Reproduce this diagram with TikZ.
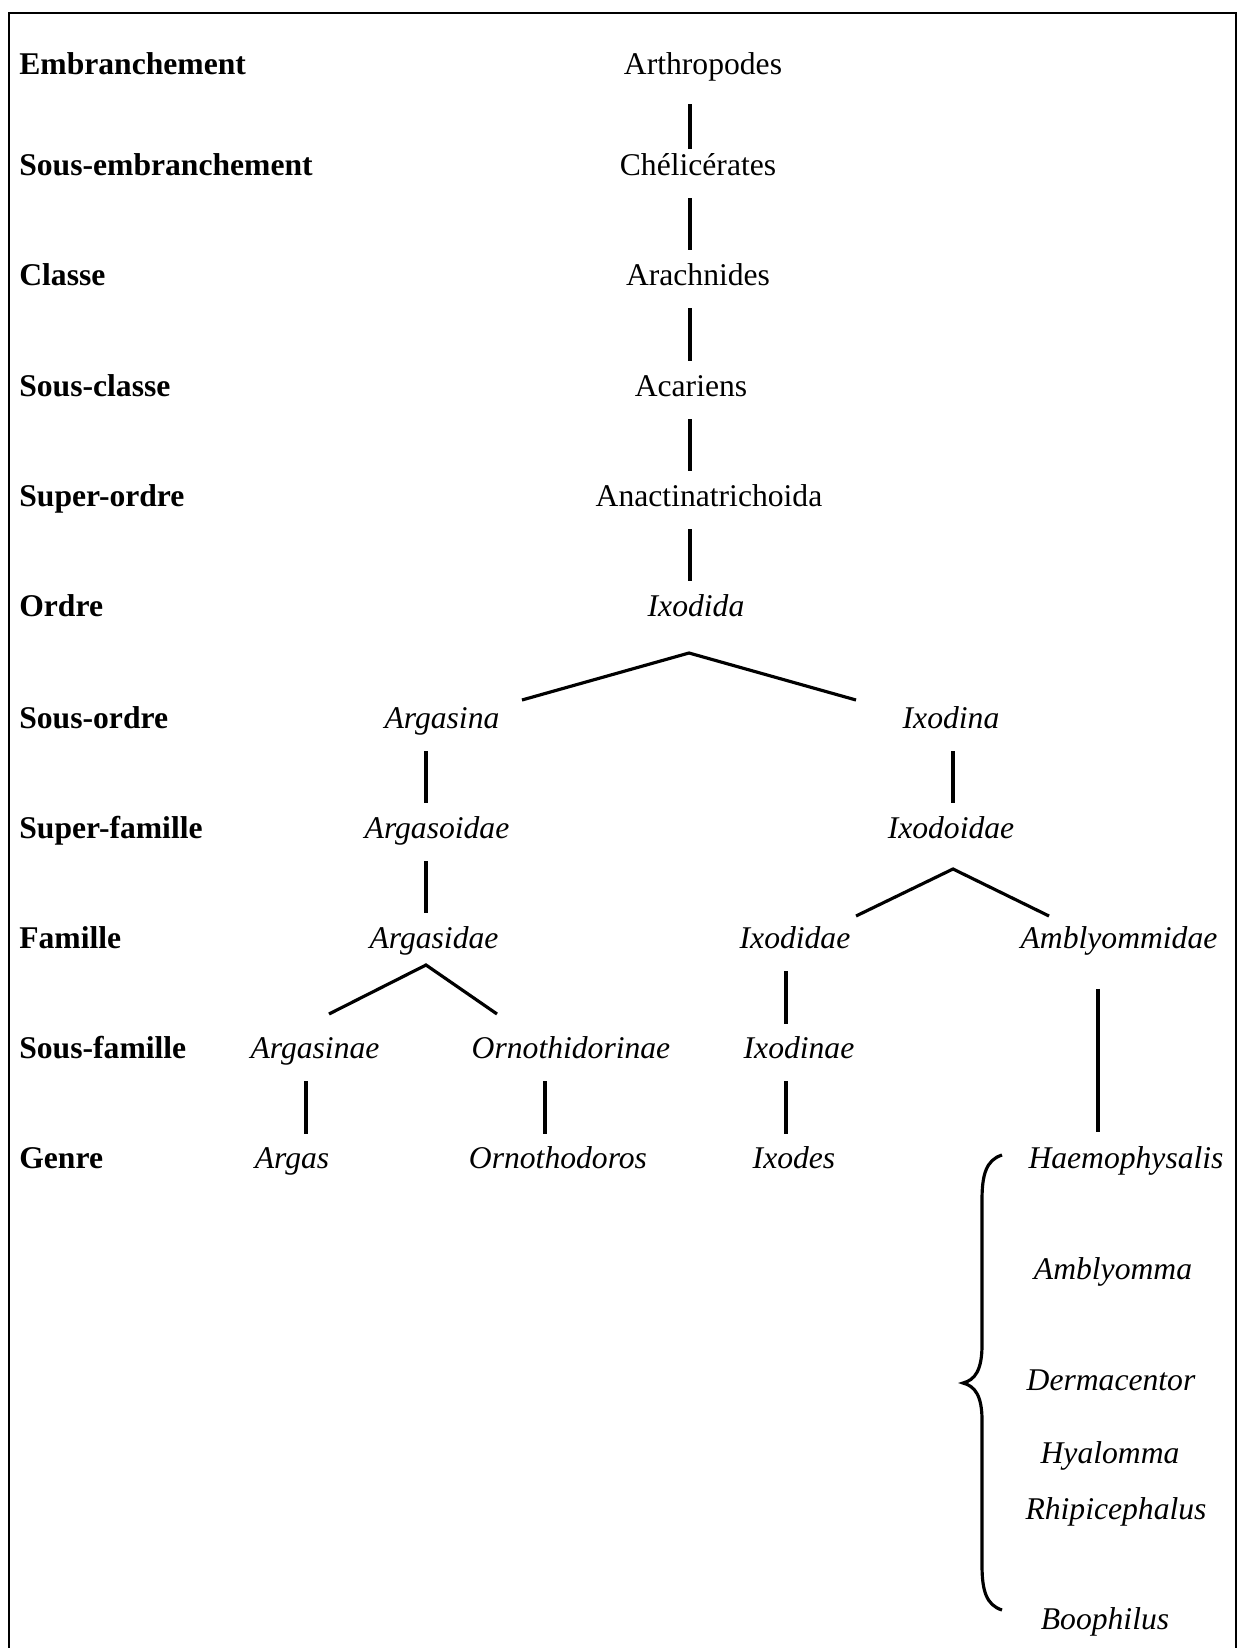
\documentclass[tikz,border=0pt]{standalone}
\usepackage{fontspec}
\setmainfont{Liberation Serif}
\usetikzlibrary{calc}

\begin{document}
\begin{tikzpicture}[x=0.02cm, y=-0.02cm,
    every node/.style={font=\fontsize{18}{20}\selectfont, inner sep=0pt, text height=15pt, text depth=2.5pt},
    rang/.style={anchor=west, font=\fontsize{18}{20}\selectfont\bfseries},
    taxon/.style={font=\fontsize{18}{20}\selectfont\itshape},
    lien/.style={line width=1.8pt, shorten <=10pt, shorten >=5pt},
    branche/.style={line width=1.8pt}]
      \useasboundingbox (0,0) rectangle (1240,1648);
      \draw[line width=1pt] (9,1648) -- (9,13) -- (1236,13) -- (1236,1648);

      % rangs
      \foreach \y/\t [count=\i] in {64/Embranchement, 165/Sous-embranchement, 275/Classe,
          386/Sous-classe, 496/Super-ordre, 606/Ordre, 718/Sous-ordre, 828/Super-famille,
          938/Famille, 1048/Sous-famille, 1158/Genre}{
        \node[rang] (rang\i) at (19,\y) {\t};
      }

      \node (arthropodes) at (703,64) {Arthropodes};
      \node (chelicerates) at (698,165) {Chélicérates};
      \node (arachnides) at (698,275) {Arachnides};
      \node (acariens) at (691,386) {Acariens};
      \node (anactina) at (709,496) {Anactinatrichoida};
      \node[taxon] (ixodida) at (696,606) {Ixodida};
      \node[taxon] (argasina) at (442,718) {Argasina};
      \node[taxon] (ixodina) at (951,718) {Ixodina};
      \node[taxon] (argasoidae) at (437,828) {Argasoidae};
      \node[taxon] (ixodoidae) at (951,828) {Ixodoidae};
      \node[taxon] (argasidae) at (434,938) {Argasidae};
      \node[taxon] (ixodidae) at (795,938) {Ixodidae};
      \node[taxon] (amblyommidae) at (1119,938) {Amblyommidae};
      \node[taxon] (argasinae) at (315,1048) {Argasinae};
      \node[taxon] (ornithidorinae) at (571,1048) {Ornothidorinae};
      \node[taxon] (ixodinae) at (799,1048) {Ixodinae};
      \node[taxon] (argas) at (292,1158) {Argas};
      \node[taxon] (ornithodoros) at (558,1158) {Ornothodoros};
      \node[taxon] (ixodes) at (794,1158) {Ixodes};
      \node[taxon] (haemophysalis) at (1126,1158) {Haemophysalis};
      \node[taxon] (amblyomma) at (1113,1269) {Amblyomma};
      \node[taxon] (dermacentor) at (1111,1380) {Dermacentor};
      \node[taxon] (hyalomma) at (1110,1453) {Hyalomma};
      \node[taxon] (rhipicephalus) at (1116,1508) {Rhipicephalus};
      \node[taxon] (boophilus) at (1105,1618) {Boophilus};

      % colonnes des traits verticaux
      \coordinate (tronc) at (690,0);
      \coordinate (colargasina) at (426,0);
      \coordinate (colixodina) at (953,0);
      \coordinate (colixodidae) at (786,0);
      \coordinate (colargasinae) at (306,0);
      \coordinate (colornith) at (545,0);
      \coordinate (colambly) at (1098,0);

      \draw[lien, shorten <=14pt, shorten >=0pt] (arthropodes.south -| tronc) -- (chelicerates.north -| tronc);
      \draw[lien] (chelicerates.south -| tronc) -- (arachnides.north -| tronc);
      \draw[lien] (arachnides.south -| tronc) -- (acariens.north -| tronc);
      \draw[lien] (acariens.south -| tronc) -- (anactina.north -| tronc);
      \draw[lien] (anactina.south -| tronc) -- (ixodida.north -| tronc);
      \draw[lien] (argasina.south -| colargasina) -- (argasoidae.north -| colargasina);
      \draw[lien] (argasoidae.south -| colargasina) -- (argasidae.north -| colargasina);
      \draw[lien] (ixodina.south -| colixodina) -- (ixodoidae.north -| colixodina);
      \draw[lien] (ixodidae.south -| colixodidae) -- (ixodinae.north -| colixodidae);
      \draw[lien] (ixodinae.south -| colixodidae) -- (ixodes.north -| colixodidae);
      \draw[lien] (argasinae.south -| colargasinae) -- (argas.north -| colargasinae);
      \draw[lien] (ornithidorinae.south -| colornith) -- (ornithodoros.north -| colornith);
      \draw[lien, shorten <=20pt, shorten >=6pt] (amblyommidae.south -| colambly) -- (haemophysalis.north -| colambly);

      % embranchements
      \coordinate (fourche1) at (689,653);
      \coordinate (fourche1g) at (522,700);
      \coordinate (fourche1d) at (856,700);
      \coordinate (fourche2) at (953,869);
      \coordinate (fourche2g) at (856,916);
      \coordinate (fourche2d) at (1049,916);
      \coordinate (fourche3) at (426,965);
      \coordinate (fourche3g) at (329,1014);
      \coordinate (fourche3d) at (497,1014);
      \draw[branche] (fourche1g) -- (fourche1) -- (fourche1d);
      \draw[branche] (fourche2g) -- (fourche2) -- (fourche2d);
      \draw[branche] (fourche3g) -- (fourche3) -- (fourche3d);

      % accolade des genres
      \draw[branche] (1002,1155) .. controls (986,1160) and (982,1175) .. (982,1200)
        -- (982,1345) .. controls (982,1370) and (975,1380) .. (963,1383)
        .. controls (975,1386) and (982,1396) .. (982,1420)
        -- (982,1565) .. controls (982,1590) and (986,1605) .. (1002,1610);
\end{tikzpicture}
\end{document}
